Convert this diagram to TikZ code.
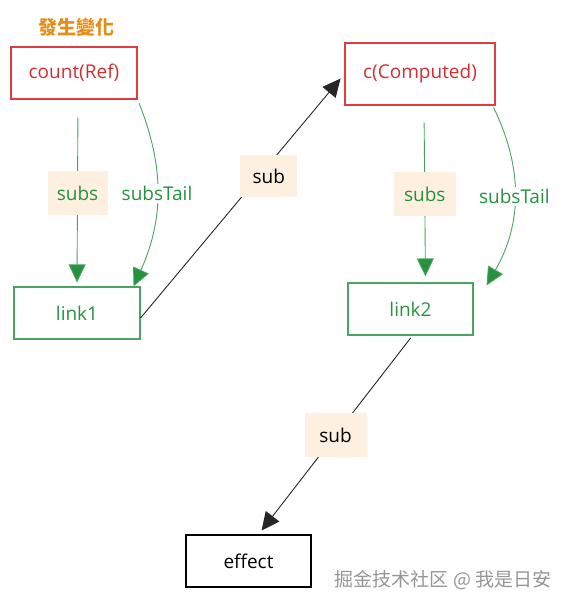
\documentclass[tikz,border=0pt]{standalone}
\usepackage{fontspec}
\setmainfont{Open Sans}
\newfontfamily\cjkfont{Noto Sans CJK TC}
\usetikzlibrary{arrows.meta, positioning}
\definecolor{srcred}{RGB}{212,45,50}
\definecolor{boxred}{RGB}{222,60,64}
\definecolor{linkgreen}{RGB}{38,146,62}
\definecolor{linkline}{RGB}{72,164,96}
\definecolor{tagbg}{RGB}{253,240,224}
\definecolor{changed}{RGB}{232,140,22}
\definecolor{wmgray}{RGB}{150,150,150}

\begin{document}
\begin{tikzpicture}[
  x=1pt, y=1pt,
  every node/.style={font=\fontsize{19}{22}\selectfont},
  refbox/.style={draw=boxred, text=srcred, line width=1.2pt, minimum width=126pt, minimum height=52pt},
  linkbox/.style={draw=linkline, text=linkgreen, line width=1.1pt, minimum width=126pt, minimum height=52pt},
  plainbox/.style={draw=black, line width=1.1pt, minimum width=126pt, minimum height=52pt},
  tag/.style={fill=tagbg, minimum width=60pt, minimum height=44pt},
  green arrow/.style={-{Triangle[length=18pt, width=17pt, fill=linkgreen]}, draw=linkline, line width=0.9pt},
  black arrow/.style={-{Triangle[length=18pt, width=17pt]}, draw=black!85, line width=0.9pt}
]
\useasboundingbox (0,0) rectangle (571,-609);

\node[text=changed, font=\cjkfont\bfseries\fontsize{19}{22}\selectfont] (change) at (76,-27) {發生變化};

\node[refbox] (count) at (74,-73) {count(Ref)};
\node[linkbox] (link1) at (77,-313) {link1};
\node[refbox, minimum width=150pt, minimum height=62pt] (comp) at (420,-74) {c(Computed)};
\node[linkbox, minimum width=125pt] (link2) at (410.5,-309) {link2};
\node[plainbox, minimum width=125pt] (effect) at (248.5,-561) {effect};

% count -> link1
\draw[green arrow, shorten <=18pt, shorten >=4pt] ([xshift=4pt]count.south) -- (link1.north)
  node[midway, tag, text=linkgreen] {subs};
\draw[green arrow, shorten <=4pt] (count.south east) to[bend left=23]
  node[midway, fill=white, text=linkgreen, inner sep=2pt] {subsTail} ([xshift=-7pt]link1.north east);

% link1 -> c
\draw[black arrow, shorten >=6pt] ([yshift=-5pt]link1.east) -- (comp.west)
  node[pos=0.58, xshift=10pt, tag, text=black, minimum width=57pt, minimum height=42pt] {sub};

% c -> link2
\draw[green arrow, shorten <=17pt, shorten >=6pt] ([xshift=4pt]comp.south) -- ([xshift=15pt]link2.north)
  node[midway, tag, text=linkgreen, minimum width=62pt] {subs};
\draw[green arrow, shorten <=2pt] ([xshift=-3pt]comp.south east) to[bend left=28]
  node[midway, fill=white, text=linkgreen, inner sep=2pt] {subsTail} ([xshift=13pt, yshift=-3pt]link2.north east);

% link2 -> effect
\draw[black arrow, shorten <=3pt, shorten >=5pt] ([xshift=2pt]link2.south) -- ([xshift=10pt]effect.north)
  node[midway, tag, text=black, minimum width=62pt] {sub};

\node[text=wmgray, font=\cjkfont\fontsize{19}{22}\selectfont] (wm) at (443,-580) {掘金技术社区 @ 我是日安};
\end{tikzpicture}
\end{document}
